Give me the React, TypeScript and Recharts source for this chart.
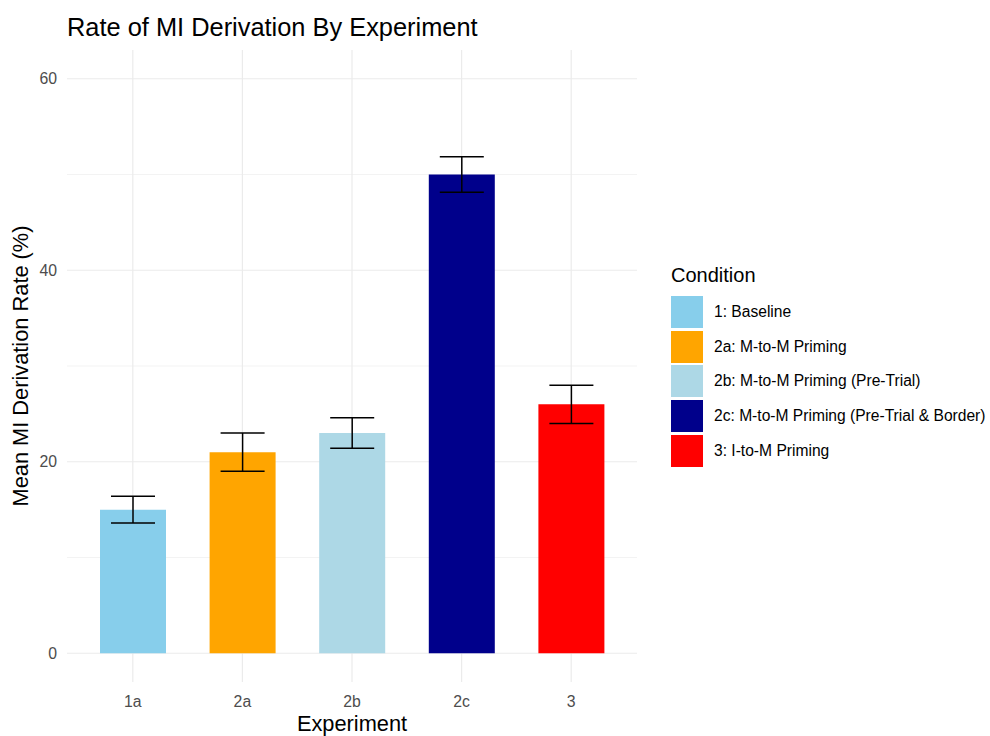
import {
  Bar,
  BarChart,
  CartesianGrid,
  Cell,
  ErrorBar,
  XAxis,
  YAxis,
} from "recharts";

const experiments = ["1a", "2a", "2b", "2c", "3"];
const conditions = [
  "1: Baseline",
  "2a: M-to-M Priming",
  "2b: M-to-M Priming (Pre-Trial)",
  "2c: M-to-M Priming (Pre-Trial & Border)",
  "3: I-to-M Priming",
];
const meanRates = [15, 21, 23, 50, 26];
const rateErrors = [1.4, 2.0, 1.6, 1.85, 2.0];
const barColors = ["#87CEEB", "#FFA500", "#ADD8E6", "#00008B", "#FF0000"];
const yTicks = [0, 20, 40, 60];
const minorTicks = [10, 30, 50];

const data = experiments.map((e, i) => ({
  experiment: e,
  rate: meanRates[i],
  err: rateErrors[i],
  condition: conditions[i],
}));

const font = '"Liberation Sans", Arial, sans-serif';
const tickStyle = { fill: "#4D4D4D", fontSize: 15.8, fontFamily: font };
const titleStyle = { fill: "#000", fontSize: 21.8, fontFamily: font };

function ConditionLegend() {
  return (
    <div
      style={{
        position: "absolute",
        left: 671,
        top: 263,
        fontFamily: font,
        color: "#000",
      }}
    >
      <div style={{ fontSize: 20, lineHeight: "24px", height: 24 }}>Condition</div>
      <div style={{ marginTop: 8 }}>
        {conditions.map((c, i) => (
          <div key={c} style={{ display: "flex", alignItems: "center", height: 34.6 }}>
            <div style={{ width: 32, height: 32, background: barColors[i], marginRight: 11 }} />
            <span style={{ fontSize: 15.6, whiteSpace: "nowrap" }}>{c}</span>
          </div>
        ))}
      </div>
    </div>
  );
}

export default function App() {
  return (
    <div
      style={{
        position: "absolute",
        left: 0,
        top: 0,
        width: 990,
        height: 736,
        background: "#fff",
      }}
    >
      <div
        style={{
          position: "absolute",
          left: 67,
          top: 13,
          fontFamily: font,
          fontSize: 25.4,
          lineHeight: "28px",
          color: "#000",
          whiteSpace: "nowrap",
        }}
      >
        Rate of MI Derivation By Experiment
      </div>
      <BarChart
        width={990}
        height={736}
        data={data}
        margin={{ top: 50, right: 353, left: 0, bottom: 0 }}
      >
        <CartesianGrid
          stroke="#EBEBEB"
          strokeWidth={0.6}
          vertical={false}
          horizontalValues={minorTicks}
        />
        <CartesianGrid
          stroke="#EBEBEB"
          strokeWidth={1.2}
          horizontalValues={yTicks}
          verticalValues={experiments}
        />
        <XAxis
          dataKey="experiment"
          height={54}
          axisLine={false}
          tickLine={false}
          tickSize={0}
          tickMargin={14}
          padding={{ left: 11, right: 11 }}
          tick={tickStyle}
          label={{
            value: "Experiment",
            position: "insideBottom",
            offset: 5,
            style: titleStyle,
          }}
        />
        <YAxis
          width={67}
          domain={[-3, 63]}
          ticks={yTicks}
          axisLine={false}
          tickLine={false}
          tickSize={0}
          tickMargin={10}
          tick={tickStyle}
          label={{
            value: "Mean MI Derivation Rate (%)",
            angle: -90,
            position: "insideLeft",
            offset: 20,
            style: { ...titleStyle, textAnchor: "middle" },
          }}
        />
        <Bar dataKey="rate" barSize={66} isAnimationActive={false}>
          {data.map((d, i) => (
            <Cell key={d.experiment} fill={barColors[i]} />
          ))}
          <ErrorBar
            dataKey="err"
            width={22}
            stroke="#000"
            strokeWidth={1.5}
            direction="y"
            isAnimationActive={false}
          />
        </Bar>
      </BarChart>
      <ConditionLegend />
    </div>
  );
}
